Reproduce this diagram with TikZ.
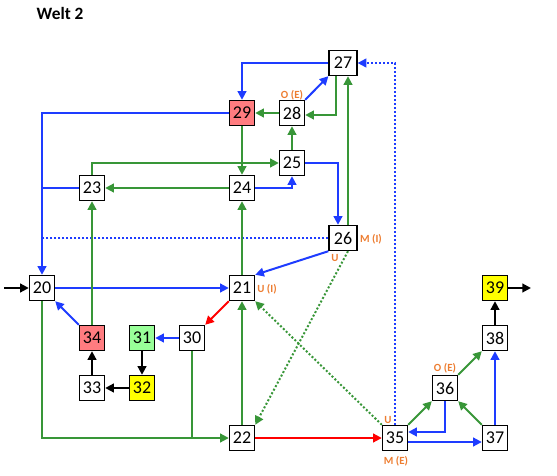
\documentclass[tikz,border=0pt]{standalone}
\usepackage{fontspec}
\setmainfont{Carlito}
\usetikzlibrary{arrows.meta,calc}
\definecolor{cblue}{RGB}{30,60,255}
\definecolor{cgreen}{RGB}{56,150,56}
\definecolor{cred}{RGB}{255,0,0}
\definecolor{cpink}{RGB}{255,124,128}
\definecolor{clgreen}{RGB}{153,255,153}
\definecolor{cyellow}{RGB}{255,255,0}
\definecolor{corange}{RGB}{237,125,49}
\begin{document}
\begin{tikzpicture}[x=0.75pt,y=-0.75pt,
  box/.style={draw=black, line width=0.9pt, fill=white, minimum width=18.9pt, minimum height=18.9pt, inner sep=0pt, font=\fontsize{13.5}{15}\selectfont},
  wbox/.style={box, minimum width=21pt},
  lbl/.style={text=corange, font=\bfseries\fontsize{8.2}{9}\selectfont, inner sep=0pt},
  conn/.style={line width=1.5pt, -{Triangle[length=6.5pt,width=6.5pt]}},
  plain/.style={line width=1.5pt},
  dots/.style={dash pattern=on 1.5pt off 1.5pt},
  bl/.style={draw=cblue},
  gr/.style={draw=cgreen},
  rd/.style={draw=cred},
  bk/.style={draw=black}]
\useasboundingbox (0,0) rectangle (557,475);
\node[anchor=base west, font=\bfseries\fontsize{13}{15}\selectfont] (title) at (32,19) {Welt 2};
% nodes
\node[box] (n20) at (42,288) {20};
\node[box] (n21) at (242,288) {21};
\node[box] (n22) at (242,438) {22};
\node[box] (n23) at (92,188) {23};
\node[box] (n24) at (242,188) {24};
\node[box] (n25) at (292,163) {25};
\node[wbox] (n26) at (343,238) {26};
\node[wbox] (n27) at (343,63) {27};
\node[box] (n28) at (292,113) {28};
\node[box, fill=cpink] (n29) at (242,113) {29};
\node[box] (n30) at (192,338) {30};
\node[box, fill=clgreen] (n31) at (142,338) {31};
\node[box, fill=cyellow] (n32) at (142,388) {32};
\node[box] (n33) at (92,388) {33};
\node[box, fill=cpink] (n34) at (92,338) {34};
\node[box] (n35) at (395,438) {35};
\node[box] (n36) at (445,388) {36};
\node[box] (n37) at (495,438) {37};
\node[box] (n38) at (495,338) {38};
\node[box, fill=cyellow] (n39) at (495,288) {39};
\coordinate (in) at (4,288);
\coordinate (out) at (531,288);
% labels
\node[lbl] (l28) at (292,95) {O (E)};
\node[lbl] (l26a) at (371,239) {M (I)};
\node[lbl] (l26b) at (335,258) {U};
\node[lbl] (l21) at (267,289) {U (I)};
\node[lbl] (l35a) at (388,420) {U};
\node[lbl] (l35b) at (396,461) {M (E)};
\node[lbl] (l36) at (445,368) {O (E)};
% black
\draw[conn,bk] (in) -- (n20.west);
\draw[conn,bk] (n33.north) -- (n34.south);
\draw[conn,bk] (n31.south) -- (n32.north);
\draw[conn,bk] (n32.west) -- (n33.east);
\draw[conn,bk] (n38.north) -- (n39.south);
\draw[conn,bk] (n39.east) -- (out);
% blue
\draw[conn,bl] (n27.west) -| (n29.north);
\draw[conn,bl] (n29.west) -| (n20.north);
\draw[plain,bl] (n23.west) -- (n23.west -| n20.north);
\draw[plain,bl,dots] (n26.west) -- (n26.west -| n20.north);
\draw[conn,bl] (n28.north east) -- (n27.south west);
\draw[conn,bl] (n24.east) -| (n25.south);
\draw[conn,bl] (n25.east) -| ($(n26.north)+(-5,0)$);
\draw[conn,bl] (n26.south west) -- (n21.north east);
\draw[conn,bl] (n20.east) -- (n21.west);
\draw[conn,bl] (n34.north west) -- (n20.south east);
\draw[conn,bl] (n30.west) -- (n31.east);
\draw[conn,bl,dots] (n35.north) |- (n27.east);
\draw[conn,bl] (n36.south) |- ($(n35.east)+(0,-6)$);
\draw[conn,bl] ($(n35.east)+(0,4)$) -- ($(n37.west)+(0,4)$);
\draw[conn,bl] (n37.north) -- (n38.south);
% green
\draw[conn,gr] (n29.south) -- (n24.north);
\draw[conn,gr] (n28.west) -- (n29.east);
\draw[conn,gr] ($(n27.south)+(-7,0)$) |- ($(n28.east)+(0,2)$);
\draw[conn,gr] (n25.north) -- (n28.south);
\draw[conn,gr] (n23.north) |- (n25.west);
\draw[conn,gr] (n24.west) -- (n23.east);
\draw[conn,gr] (n34.north) -- (n23.south);
\draw[conn,gr] (n21.north) -- (n24.south);
\draw[conn,gr] (n22.north) -- (n21.south);
\draw[conn,gr] ($(n26.north)+(5,0)$) -- ($(n27.south)+(5,0)$);
\draw[conn,gr] (n20.south) |- (n22.west);
\draw[plain,gr] (n30.south) -- (n30.south |- n22.west);
\draw[conn,gr] (n35.north east) -- (n36.south west);
\draw[conn,gr] (n37.north west) -- (n36.south east);
\draw[conn,gr] (n36.north east) -- (n38.south west);
\draw[conn,gr,dots] ($(n26.south)+(5,0)$) -- (n22.north east);
\draw[conn,gr,dots] (n35.north west) -- (n21.south east);
% red
\draw[conn,rd] (n21.south west) -- (n30.north east);
\draw[conn,rd] (n22.east) -- (n35.west);
\end{tikzpicture}
\end{document}
